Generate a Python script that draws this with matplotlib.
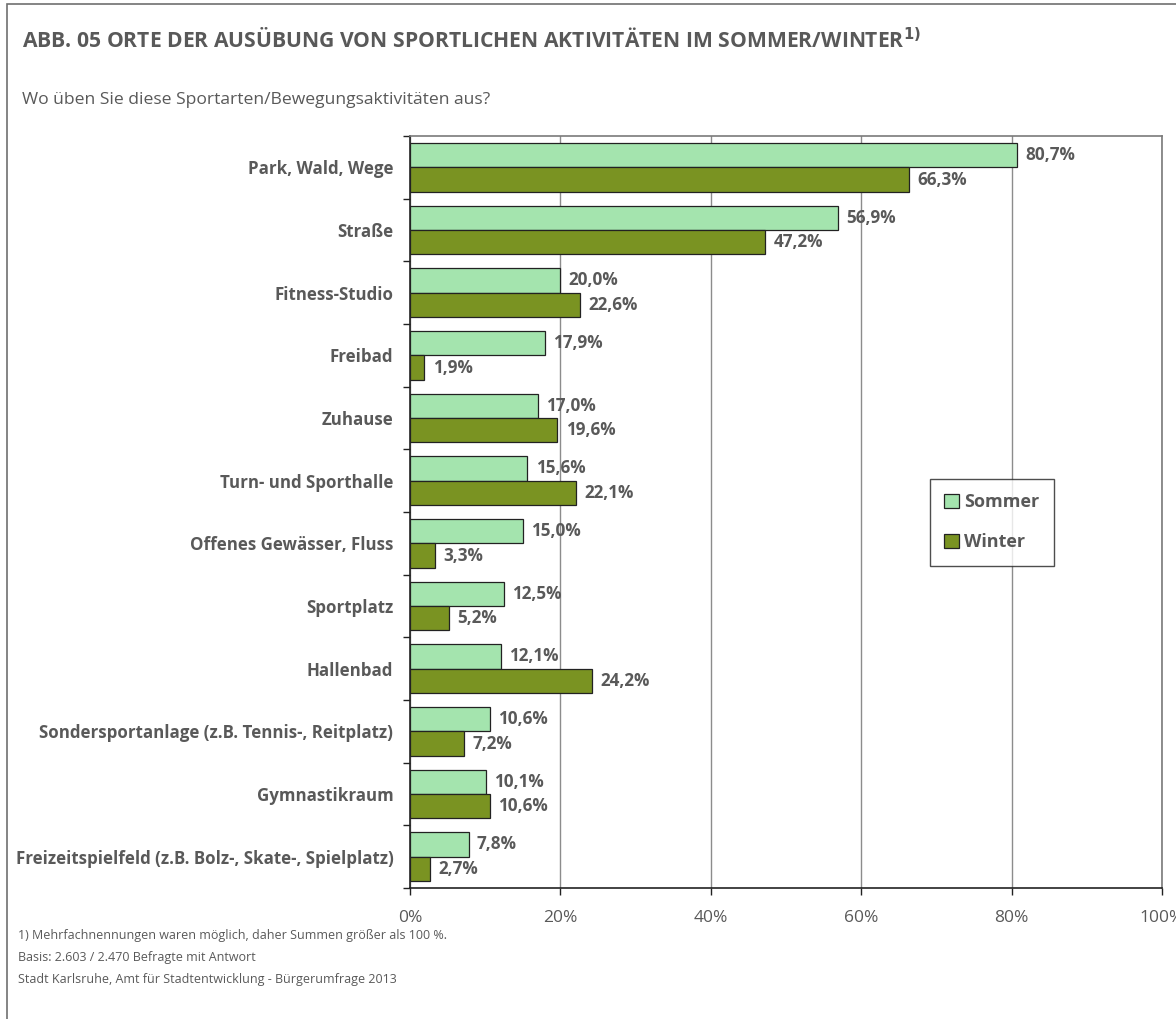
import matplotlib
matplotlib.use("Agg")
import matplotlib.pyplot as plt
import numpy as np
from matplotlib.patches import Patch, Rectangle
from matplotlib import font_manager

names = {f.name for f in font_manager.fontManager.ttflist}
FAM = ['Liberation Sans Narrow', 'Open Sans', 'DejaVu Sans'] if 'Liberation Sans Narrow' in names else ['Open Sans', 'DejaVu Sans']
plt.rcParams['font.family'] = FAM

categories = ["Park, Wald, Wege", "Straße", "Fitness-Studio", "Freibad", "Zuhause",
              "Turn- und Sporthalle", "Offenes Gewässer, Fluss", "Sportplatz", "Hallenbad",
              "Sondersportanlage (z.B. Tennis-, Reitplatz)", "Gymnastikraum",
              "Freizeitspielfeld (z.B. Bolz-, Skate-, Spielplatz)"]
sommer = [80.7, 56.9, 20.0, 17.9, 17.0, 15.6, 15.0, 12.5, 12.1, 10.6, 10.1, 7.8]
winter = [66.3, 47.2, 22.6, 1.9, 19.6, 22.1, 3.3, 5.2, 24.2, 7.2, 10.6, 2.7]
xticks = [0, 20, 40, 60, 80, 100]
xticklabels = ["0%", "20%", "40%", "60%", "80%", "100%"]
series_names = ["Sommer", "Winter"]

C_S = "#A4E4AE"
C_W = "#7A9322"
TXT = "#595959"

W, H = 1176, 1019
fig = plt.figure(figsize=(W/100, H/100), dpi=100)
fig.patches.append(Rectangle((7/W, -0.05), 1.2, (H-4)/H + 0.05, transform=fig.transFigure,
                             fill=False, edgecolor="#707070", linewidth=1.2, zorder=0))

ax = fig.add_axes([410/W, 1-888/H, (1162-410)/W, (888-136)/H])
n = len(categories)
y = np.arange(n)
bh = 0.39
ax.barh(y - bh/2, sommer, height=bh, color=C_S, edgecolor="#222222", linewidth=0.9, zorder=3)
ax.barh(y + bh/2, winter, height=bh, color=C_W, edgecolor="#222222", linewidth=0.9, zorder=3)
ax.set_ylim(n - 0.5, -0.5)
ax.set_xlim(0, 100)

for i in range(n):
    ax.annotate(f"{sommer[i]:.1f}%".replace(".", ","), (sommer[i], y[i] - bh/2), xytext=(6, 0),
                textcoords="offset points", va="center", ha="left", fontsize=12.3,
                fontweight="bold", color=TXT, zorder=5)
    ax.annotate(f"{winter[i]:.1f}%".replace(".", ","), (winter[i], y[i] + bh/2), xytext=(6, 0),
                textcoords="offset points", va="center", ha="left", fontsize=12.3,
                fontweight="bold", color=TXT, zorder=5)

ax.set_xticks(xticks)
ax.set_xticklabels(xticklabels, fontsize=12.5, color=TXT)
ax.xaxis.grid(True, color="#8c8c8c", linewidth=1)
ax.set_axisbelow(True)
ax.tick_params(axis="x", direction="out", length=5, width=1, color="#222222", pad=11)

ax.set_yticks(np.arange(n + 1) - 0.5, minor=True)
ax.set_yticks(y)
ax.set_yticklabels(categories, fontsize=12.2, fontweight="bold", color=TXT)
ax.tick_params(axis="y", which="major", length=0, pad=12)
ax.tick_params(axis="y", which="minor", length=5, width=1, color="#222222", direction="out")

for s in ["left", "bottom"]:
    ax.spines[s].set_color("#222222")
    ax.spines[s].set_linewidth(1.2)
for s in ["top", "right"]:
    ax.spines[s].set_color("#7a7a7a")
    ax.spines[s].set_linewidth(1.2)

handles = [Patch(facecolor=C_S, edgecolor="#222222", linewidth=0.9),
           Patch(facecolor=C_W, edgecolor="#222222", linewidth=0.9)]
leg = fig.legend(handles, series_names, loc="upper left",
                 bbox_to_anchor=(930/W, 1-479/H), frameon=True, fancybox=False,
                 prop={"weight": "bold", "size": 13}, labelspacing=1.2,
                 handlelength=0.8, handleheight=0.8, handletextpad=0.3,
                 borderpad=0.8, borderaxespad=0)
leg.get_frame().set_edgecolor("#222222")
leg.get_frame().set_linewidth(1.0)
for t in leg.get_texts():
    t.set_color(TXT)

fig.text(22/W, 1-40/H, "ABB. 05 ORTE DER AUSÜBUNG VON SPORTLICHEN AKTIVITÄTEN IM SOMMER/WINTER$^{\\mathbf{1)}}$",
         fontsize=15.2, fontweight="bold", color=TXT, va="center", ha="left")
fig.text(22/W, 1-100/H, "Wo üben Sie diese Sportarten/Bewegungsaktivitäten aus?",
         fontsize=12.6, color=TXT, va="center", ha="left")
foot = ["1) Mehrfachnennungen waren möglich, daher Summen größer als 100 %.",
        "Basis: 2.603 / 2.470 Befragte mit Antwort",
        "Stadt Karlsruhe, Amt für Stadtentwicklung - Bürgerumfrage 2013"]
for k, line in enumerate(foot):
    fig.text(18/W, 1-(935 + 22*k)/H, line, fontsize=9, color=TXT, va="center", ha="left")

fig.savefig("out.png", dpi=100)
